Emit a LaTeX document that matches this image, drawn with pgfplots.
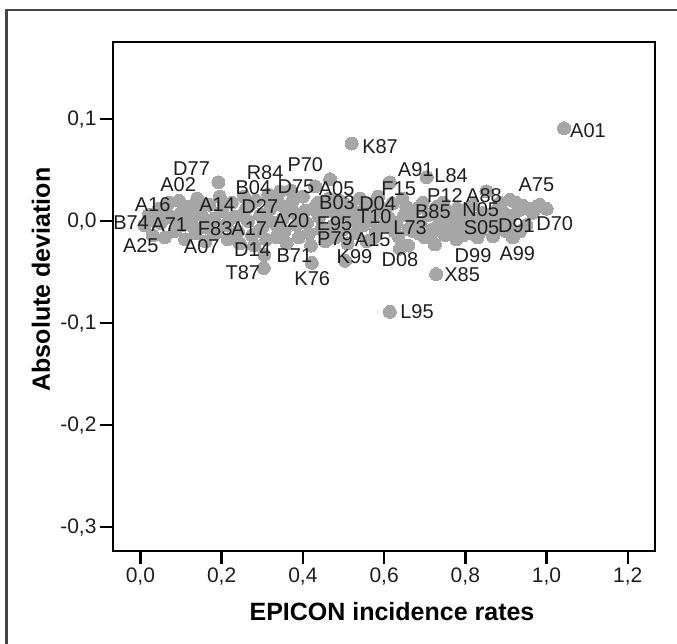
\documentclass[border=0pt]{standalone}
\usepackage{fontspec}
\setmainfont{Liberation Sans}
\usepackage{pgfplots}
\pgfplotsset{compat=1.18}
\definecolor{dotgray}{HTML}{A6A6A6}
\definecolor{framegray}{HTML}{444444}
\definecolor{labcol}{HTML}{1E1E1E}
\begin{document}
\begin{tikzpicture}
\useasboundingbox (0pt,0pt) rectangle (677pt,-643pt);
\draw[line width=2.5pt, framegray] (6.7pt,-660pt) -- (6.7pt,-10pt) -- (700pt,-10pt);
\begin{axis}[
  at={(113pt,-551pt)}, anchor=south west,
  scale only axis, width=542pt, height=509pt,
  xmin=-0.0675, xmax=1.267, ymin=-0.3235, ymax=0.1755,
  clip=false,
  axis line style={line width=2.5pt, black},
  xtick={0,0.2,0.4,0.6,0.8,1.0,1.2},
  ytick={-0.3,-0.2,-0.1,0,0.1},
  xtick pos=bottom, ytick pos=left,
  tick align=outside, major tick length=13pt,
  tick style={line width=2.5pt, black},
  /pgf/number format/assume math mode=true,
  /pgf/number format/.cd, fixed, fixed zerofill, precision=1, use comma,
  /pgfplots/.cd,
  ticklabel style={font=\fontsize{21}{24}\selectfont, text=labcol},
  xlabel={EPICON incidence rates},
  ylabel={Absolute deviation},
  xlabel style={font=\fontsize{25}{30}\selectfont\bfseries, at={([xshift=8pt,yshift=-61pt]axis description cs:0.5,0)}, anchor=center},
  ylabel style={font=\fontsize{25}{30}\selectfont\bfseries, at={([xshift=-72pt,yshift=17pt]axis description cs:0,0.5)}, anchor=center},
]
\addplot[only marks, mark=*, mark size=6.5pt, mark options={draw=dotgray, fill=dotgray, line width=0pt}] table {
x y
0.010 -0.004
0.020 0.006
0.030 -0.014
0.045 0.012
0.050 -0.002
0.060 -0.016
0.070 0.018
0.075 0.004
0.085 -0.010
0.095 0.020
0.100 0.008
0.105 -0.004
0.110 -0.018
0.120 0.014
0.125 0.002
0.135 -0.012
0.140 0.022
0.150 0.006
0.155 -0.006
0.160 -0.020
0.170 0.016
0.180 0.002
0.185 -0.012
0.192 0.038
0.195 0.024
0.200 0.010
0.210 -0.004
0.215 -0.018
0.225 0.018
0.230 0.004
0.240 -0.010
0.245 -0.022
0.255 0.024
0.260 0.012
0.265 0.000
0.275 -0.014
0.280 -0.024
0.285 0.020
0.295 0.006
0.300 -0.006
0.305 -0.033
0.304 -0.046
0.310 -0.018
0.315 0.026
0.320 0.012
0.330 -0.002
0.335 -0.016
0.344 0.029
0.345 0.016
0.350 0.002
0.355 -0.010
0.360 -0.022
0.370 0.030
0.375 0.020
0.380 0.008
0.385 -0.004
0.390 -0.016
0.400 0.024
0.405 0.010
0.410 -0.002
0.415 -0.012
0.420 -0.024
0.422 -0.041
0.430 0.034
0.437 0.018
0.440 0.004
0.445 -0.008
0.455 -0.020
0.467 0.041
0.465 0.022
0.470 0.010
0.475 -0.004
0.480 -0.016
0.490 0.020
0.495 0.006
0.500 -0.008
0.504 -0.039
0.510 -0.022
0.515 0.014
0.520 0.076
0.520 0.002
0.530 -0.012
0.540 0.022
0.545 0.008
0.550 -0.004
0.557 -0.020
0.565 0.016
0.570 0.002
0.580 -0.010
0.585 0.024
0.595 0.008
0.600 -0.004
0.614 0.038
0.614 -0.089
0.620 0.017
0.630 -0.002
0.635 -0.015
0.639 -0.027
0.645 0.022
0.650 0.006
0.659 -0.024
0.660 -0.008
0.671 -0.010
0.680 0.012
0.690 -0.002
0.700 -0.016
0.705 0.043
0.710 0.006
0.720 -0.008
0.725 -0.023
0.728 -0.052
0.730 0.014
0.740 -0.004
0.750 -0.014
0.755 0.010
0.765 0.000
0.778 -0.018
0.780 0.012
0.790 -0.006
0.800 0.004
0.810 -0.012
0.820 0.016
0.825 0.002
0.836 -0.010
0.845 0.008
0.852 0.029
0.860 -0.004
0.868 -0.015
0.875 0.010
0.890 0.000
0.900 -0.010
0.910 0.021
0.914 0.005
0.917 -0.016
0.930 0.010
0.942 0.015
0.950 -0.004
0.966 0.008
0.983 0.016
1.000 0.012
1.043 0.091
0.035 0.000
0.065 0.008
0.090 -0.002
0.115 0.004
0.130 -0.006
0.145 0.012
0.165 0.000
0.175 -0.008
0.205 0.016
0.220 0.002
0.235 -0.016
0.250 0.006
0.270 0.016
0.290 -0.010
0.310 0.004
0.325 0.020
0.340 -0.008
0.365 0.010
0.395 0.004
0.425 0.012
0.450 0.012
0.460 -0.010
0.485 0.004
0.505 0.016
0.525 0.010
0.535 -0.002
0.560 0.006
0.575 -0.016
0.590 0.014
0.610 0.004
0.625 -0.010
0.655 0.014
0.670 0.002
0.685 -0.012
0.695 0.018
0.715 -0.014
0.735 0.004
0.745 0.018
0.760 -0.010
0.770 0.008
0.785 0.004
0.795 -0.014
0.805 0.012
0.815 -0.002
0.830 -0.016
0.850 -0.004
0.865 0.004
0.880 -0.008
0.885 0.018
0.895 0.008
0.905 -0.004
0.925 0.018
0.935 -0.010
0.955 0.012
0.975 0.014
};
\addplot[only marks, mark=none, point meta=explicit symbolic, nodes near coords,
  nodes near coords style={anchor=center, inner sep=0pt, font=\fontsize{20}{22}\selectfont, text=labcol}]
  table[meta=lab] {
x y lab
0.126 0.0517 D77
0.307 0.0474 R84
0.406 0.0549 P70
0.093 0.0353 A02
0.278 0.0330 B04
0.383 0.0336 D75
0.483 0.0319 A05
0.030 0.0157 A16
0.189 0.0157 A14
0.294 0.0147 D27
0.484 0.0176 B03
-0.023 -0.0013 B74
0.071 -0.0039 A71
0.372 0.0000 A20
0.184 -0.0078 F83
0.268 -0.0072 A17
0.478 -0.0025 E95
0.001 -0.0245 A25
0.151 -0.0252 A07
0.479 -0.0170 P79
0.572 -0.0179 A15
0.276 -0.0284 D14
0.379 -0.0343 B71
0.527 -0.0348 K99
0.252 -0.0507 T87
0.423 -0.0569 K76
0.590 0.0728 K87
0.678 0.0503 A91
0.765 0.0446 L84
0.636 0.0314 F15
0.584 0.0167 D04
0.576 0.0042 T10
0.975 0.0353 A75
0.750 0.0248 P12
0.846 0.0248 A88
0.720 0.0096 B85
0.838 0.0108 N05
0.664 -0.0062 L73
0.840 -0.0062 S05
0.926 -0.0049 D91
1.020 -0.0029 D70
0.639 -0.0379 D08
0.819 -0.0343 D99
0.928 -0.0317 A99
0.792 -0.0525 X85
1.102 0.0885 A01
0.681 -0.0892 L95
};
\end{axis}
\end{tikzpicture}
\end{document}
